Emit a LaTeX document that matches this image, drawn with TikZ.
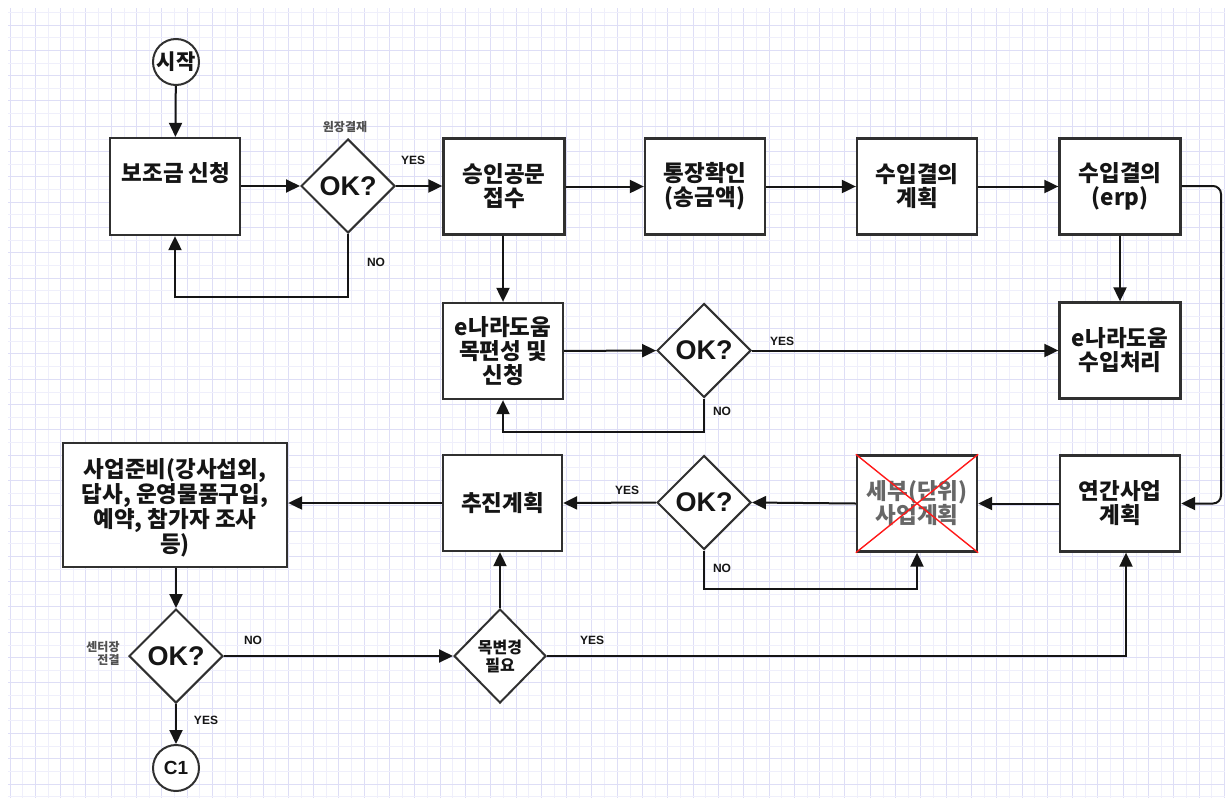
\documentclass[tikz,border=0pt]{standalone}
\usepackage{fontspec}
\setmainfont{Liberation Sans}
\newfontfamily\kr{Noto Sans CJK KR}
\usetikzlibrary{arrows.meta,shapes.geometric}
\definecolor{gmaj}{HTML}{DEDEF6}
\definecolor{gmin}{HTML}{EFEFFB}
\definecolor{ink}{HTML}{151515}
\definecolor{edge}{HTML}{303030}
\begin{document}
\begin{tikzpicture}[x=1pt,y=-1pt,
  box/.style={draw=edge, line width=2.3pt, fill=white, minimum width=120pt, minimum height=96pt, inner sep=0pt},
  txt/.style={font=\kr\bfseries\fontsize{22.5}{24}\selectfont, align=center, text=ink, inner sep=0pt},
  dia/.style={draw=edge, line width=2pt, fill=white, diamond, minimum width=94pt, minimum height=94pt, inner sep=0pt},
  oktxt/.style={font=\bfseries\fontsize{27}{30}\selectfont, text=ink},
  circ/.style={draw=edge, line width=2pt, circle, fill=white, minimum size=46pt, inner sep=0pt},
  arr/.style={line width=2pt, draw=ink, -{Triangle[length=14pt,width=13pt]}},
  lab/.style={font=\bfseries\fontsize{12}{13}\selectfont, text=ink, inner sep=0pt},
  klab/.style={font=\kr\bfseries\fontsize{12}{13}\selectfont, text=ink!75, align=center, inner sep=0pt}
]
\useasboundingbox (0,0) rectangle (1225,798);
\fill[white] (0,0) rectangle (1225,798);
% grid
\foreach \i in {0,...,48} {
  \draw[gmin, line width=0.7pt] (22.65+25.3*\i,8) -- (22.65+25.3*\i,798);
  \draw[gmaj, line width=1pt] (10+25.3*\i,8) -- (10+25.3*\i,798);
}
\foreach \j in {0,...,31} {
  \draw[gmin, line width=0.7pt] (8,12.35+25.3*\j) -- (1225,12.35+25.3*\j);
  \draw[gmaj, line width=1pt] (8,25+25.3*\j) -- (1225,25+25.3*\j);
}

% nodes
\node[circ, txt, font=\kr\bfseries\fontsize{21}{24}\selectfont] (start) at (176,62) {시작};
\node[box, minimum width=130pt, minimum height=97pt] (b1) at (175,186.5) {};
\node[txt] (b1t) at (176,173) {보조금 신청};
\node[dia, oktxt] (d1) at (348,186) {OK?};
\node[klab] (d1l) at (345,127) {원장결재};
\node[box, minimum width=121pt] (b2) at (504,186.5) {};
\node[txt] (b2t) at (b2.center) {승인공문\\접수};
\node[box] (b3) at (705,186.5) {};
\node[txt] (b3t) at (b3.center) {통장확인\\(송금액)};
\node[box] (b4) at (917,186.5) {};
\node[txt] (b4t) at (b4.center) {수입결의\\계획};
\node[box, minimum width=121pt] (b5) at (1120,186.5) {};
\node[txt] (b5t) at (b5.center) {수입결의\\(erp)};

\node[box] (b7) at (503,351) {};
\node[txt] (b7t) at (b7.center) {e나라도움\\목편성 및\\신청};
\node[dia, oktxt] (d2) at (704,350.5) {OK?};
\node[box, minimum width=121pt] (b6) at (1120,350.5) {};
\node[txt] (b6t) at (b6.center) {e나라도움\\수입처리};

\node[box, minimum width=224pt, minimum height=124pt] (b11) at (175,505) {};
\node[txt, font=\kr\bfseries\fontsize{22.5}{23}\selectfont] (b11t) at (175,508) {사업준비(강사섭외,\\답사, 운영물품구입,\\예약, 참가자 조사\\등)};
\node[box, minimum width=119pt] (b10) at (502.5,503) {};
\node[txt] (b10t) at (b10.center) {추진계획};
\node[dia, oktxt] (d3) at (704,502.5) {OK?};
\node[box] (b9) at (917,503.5) {};
\node[txt, text=ink!65] (b9t) at (b9.center) {세부(단위)\\사업계획};
\draw[red!90!white, line width=1.4pt] (b9.north west) -- (b9.south east) (b9.north east) -- (b9.south west);
\node[box] (b8) at (1120,503.5) {};
\node[txt] (b8t) at (b8.center) {연간사업\\계획};

\node[dia, oktxt] (d4) at (176,656) {OK?};
\node[klab, align=right] (d4l) at (103,653) {센터장\\전결};
\node[dia, minimum width=92pt, minimum height=94pt, font=\kr\bfseries\fontsize{16}{18}\selectfont, align=center, text=ink] (d5) at (500,656) {목변경\\필요};
\node[circ, font=\bfseries\fontsize{19}{21}\selectfont, text=ink] (c1) at (176,768) {C1};

% coordinates
\coordinate (r1) at (1221,186);
\coordinate (r2) at (1221,503.5);
\coordinate (n1) at (348,297);
\coordinate (n2) at (704,432);
\coordinate (n3) at (704,589);
\coordinate (y5) at (1126,656);

% connectors
\draw[arr] (start) -- (b1);
\draw[arr] (b1.east |- d1.west) -- (d1.west);
\draw[arr] (d1.east) -- (d1.east -| b2.west);
\draw[arr] (b2) -- (b3);
\draw[arr] (b3) -- (b4);
\draw[arr] (b4) -- (b5);
\draw[arr, rounded corners=8pt] (b5.east |- r1) -- (r1) -- (r2) -- (b8.east);
\draw[arr] (d1.south) -- (n1) -| (b1.south);
\draw[arr] (b2.south -| b7.north) -- (b7.north);
\draw[arr] (b5) -- (b6);
\draw[arr] (b7) -- (d2);
\draw[arr] (d2.east) -- (d2.east -| b6.west);
\draw[arr] (d2.south) -- (n2) -| (b7.south);
\draw[arr] (b8) -- (b9);
\draw[arr] (b9.west) -- (d3.east);
\draw[arr] (d3.west) -- (b10.east);
\draw[arr] (d3.south) -- (n3) -| (b9.south);
\draw[arr] (b10.west) -- (b10.west -| b11.east);
\draw[arr] (b11.south -| d4.north) -- (d4.north);
\draw[arr] (d4.east) -- (d5.west);
\draw[arr] (d5.north) -- (d5.north |- b10.south);
\draw[arr] (d5.east) -- (y5) -- (y5 |- b8.south);
\draw[arr] (d4.south) -- (c1.north);

% edge labels
\node[lab] (l1) at (413,160) {YES};
\node[lab] (l2) at (376,262) {NO};
\node[lab] (l3) at (782,341) {YES};
\node[lab] (l4) at (722,411) {NO};
\node[lab] (l5) at (627,490) {YES};
\node[lab] (l6) at (722,568) {NO};
\node[lab] (l7) at (253,640) {NO};
\node[lab] (l8) at (592,640) {YES};
\node[lab] (l9) at (206,720) {YES};
\end{tikzpicture}
\end{document}
